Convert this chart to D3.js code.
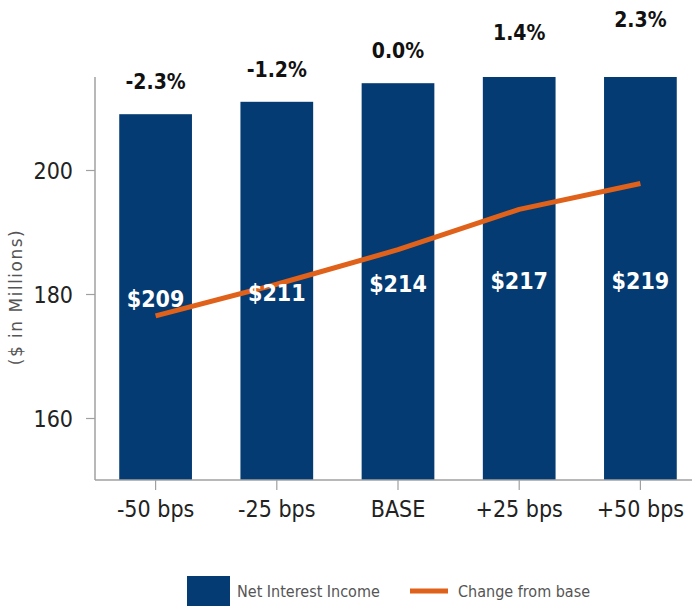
<!DOCTYPE html>
<html>
<head>
<meta charset="utf-8">
<script src="https://cdn.jsdelivr.net/npm/d3@7"></script>
<style>
  body { margin: 0; background: #fff; }
  svg { display: block; }
</style>
</head>
<body>
<div id="chart"></div>
<script>
// chart data
var scenarios = ["-50 bps", "-25 bps", "BASE", "+25 bps", "+50 bps"];
var netInterestIncome = [209, 211, 214, 217, 219];
var changeFromBase = [-2.3, -1.2, 0.0, 1.4, 2.3];
var yTicks = [160, 180, 200];

var width = 692, height = 607;
var plot = { left: 95, right: 701, top: 77, bottom: 480 };
var navy = "#033b72", orange = "#e0611a", axisGrey = "#a0a0a0";
var font = "'DejaVu Sans Condensed', 'DejaVu Sans', sans-serif";

var svg = d3.select("#chart").append("svg")
	.attr("width", width)
	.attr("height", height);

//scales
var x = d3.scaleBand()
	.domain(scenarios)
	.range([plot.left, plot.right])
	.paddingInner(0.4)
	.paddingOuter(0.2);

var y = d3.scaleLinear()
	.domain([150, 215])
	.range([plot.bottom, plot.top]);

//hidden secondary axis for the percent line
var y2 = d3.scaleLinear()
	.domain([-8, 6])
	.range([plot.bottom, plot.top]);

//clip bars to the plot area
svg.append("defs").append("clipPath")
	.attr("id", "plotclip")
  .append("rect")
	.attr("x", plot.left)
	.attr("y", plot.top)
	.attr("width", plot.right - plot.left)
	.attr("height", plot.bottom - plot.top);

var rows = scenarios.map(function(s, i) {
	return { label: s, value: netInterestIncome[i], pct: changeFromBase[i] };
});

svg.append("g")
	.attr("clip-path", "url(#plotclip)")
	.selectAll("rect")
	.data(rows)
	.enter().append("rect")
	.attr("x", function(d) { return x(d.label); })
	.attr("y", function(d) { return y(d.value); })
	.attr("width", x.bandwidth())
	.attr("height", function(d) { return plot.bottom - y(d.value); })
	.style("fill", navy);

//axes
var yAxis = svg.append("g")
	.attr("transform", "translate(" + plot.left + ",0)")
	.call(d3.axisLeft(y).tickValues(yTicks).tickSize(9).tickPadding(13).tickFormat(d3.format("d")));

var xAxis = svg.append("g")
	.attr("transform", "translate(0," + plot.bottom + ")")
	.call(d3.axisBottom(x).tickSize(10).tickPadding(11).tickSizeOuter(0));

[yAxis, xAxis].forEach(function(ax) {
	ax.select(".domain").attr("stroke", axisGrey).attr("stroke-width", 1.5);
	ax.selectAll(".tick line").attr("stroke", axisGrey).attr("stroke-width", 1.2);
	ax.selectAll(".tick text")
		.style("font-family", font)
		.style("font-size", "23px")
		.style("fill", "#222");
});
yAxis.select(".domain").attr("d", "M0," + plot.top + "V" + plot.bottom);
xAxis.select(".domain").attr("d", "M" + plot.left + ",0H" + width);
yAxis.selectAll(".tick text").attr("dy", "0.36em");

//y axis title
svg.append("text")
	.attr("transform", "translate(22,297) rotate(-90)")
	.attr("text-anchor", "middle")
	.style("font-family", "'DejaVu Sans', sans-serif")
	.style("font-size", "17px")
	.style("letter-spacing", "1.5px")
	.style("fill", "#555")
	.text("($ in Millions)");

//change from base line
var line = d3.line()
	.x(function(d) { return x(d.label) + x.bandwidth() / 2; })
	.y(function(d) { return y2(d.pct); });

svg.append("path")
	.datum(rows)
	.attr("d", line)
	.style("fill", "none")
	.style("stroke", orange)
	.style("stroke-width", 5)
	.style("stroke-linejoin", "round");

//value labels inside bars
svg.selectAll(".valueLabel")
	.data(rows)
	.enter().append("text")
	.attr("class", "valueLabel")
	.attr("x", function(d) { return x(d.label) + x.bandwidth() / 2; })
	.attr("y", function(d) { return (Math.max(y(d.value), plot.top) + plot.bottom) / 2 + 2; })
	.attr("dy", "0.36em")
	.attr("text-anchor", "middle")
	.style("font-family", font)
	.style("font-weight", "bold")
	.style("font-size", "23px")
	.style("fill", "#fff")
	.text(function(d) { return "$" + d.value; });

//percent labels above bars
svg.selectAll(".pctLabel")
	.data(rows)
	.enter().append("text")
	.attr("class", "pctLabel")
	.attr("x", function(d) { return x(d.label) + x.bandwidth() / 2; })
	.attr("y", function(d) { return y(d.value) - 25; })
	.attr("text-anchor", "middle")
	.style("font-family", font)
	.style("font-weight", "bold")
	.style("font-size", "21px")
	.style("fill", "#111")
	.text(function(d) { return d.pct.toFixed(1) + "%"; });

//legend
var legend = svg.append("g").attr("transform", "translate(0,591)");
legend.append("rect")
	.attr("x", 187).attr("y", -15)
	.attr("width", 43).attr("height", 30)
	.style("fill", navy);
legend.append("text")
	.attr("x", 237).attr("y", 0).attr("dy", "0.35em")
	.style("font-family", font).style("font-size", "16px").style("fill", "#555")
	.text("Net Interest Income");
legend.append("line")
	.attr("x1", 410).attr("x2", 448).attr("y1", 0).attr("y2", 0)
	.style("stroke", orange).style("stroke-width", 5);
legend.append("text")
	.attr("x", 458).attr("y", 0).attr("dy", "0.35em")
	.style("font-family", font).style("font-size", "16px").style("fill", "#555")
	.text("Change from base");
</script>
</body>
</html>
